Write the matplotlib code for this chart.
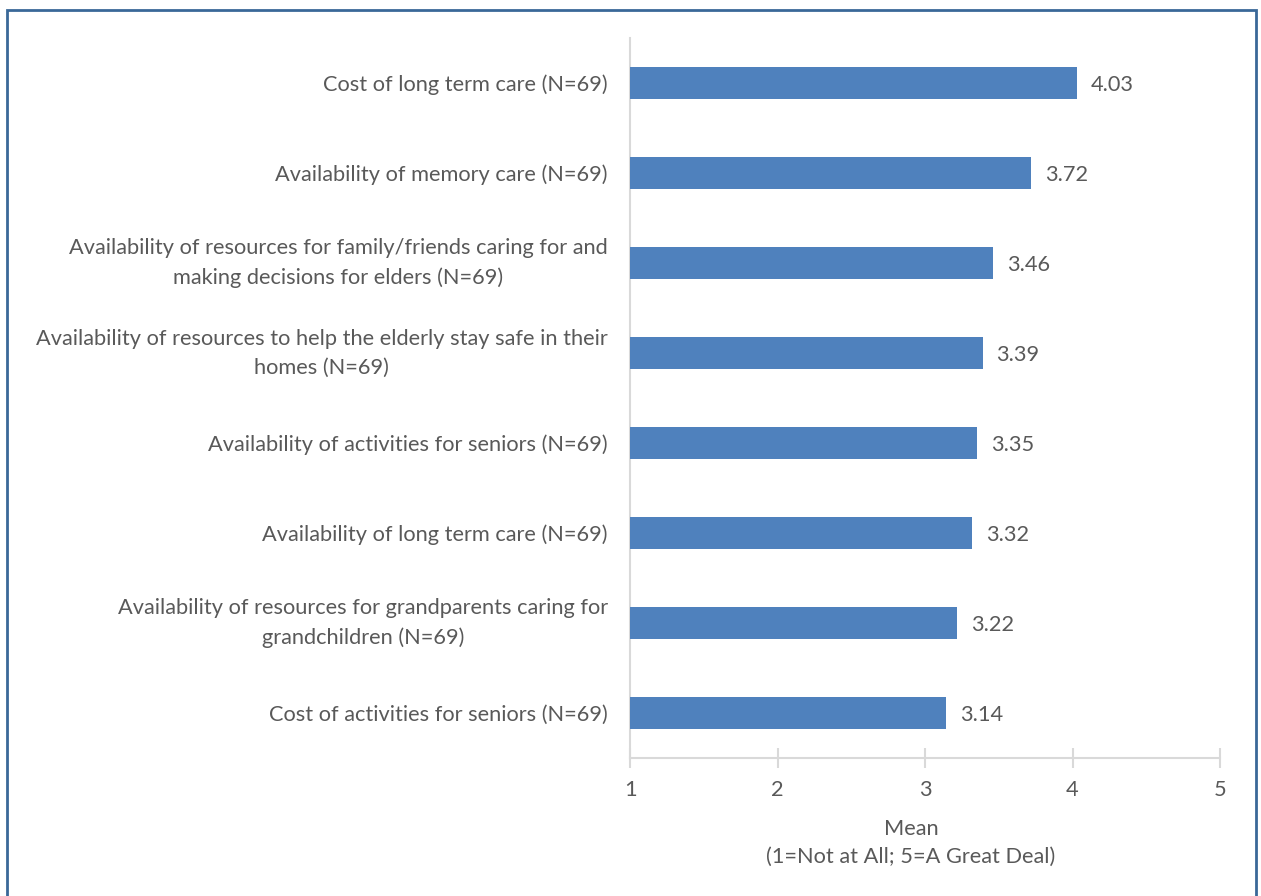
import matplotlib
matplotlib.use("Agg")
import matplotlib.pyplot as plt
from matplotlib.patches import Rectangle

categories = [
    "Cost of long term care (N=69)",
    "Availability of memory care (N=69)",
    "Availability of resources for family/friends caring for and\nmaking decisions for elders (N=69)",
    "Availability of resources to help the elderly stay safe in their\nhomes (N=69)",
    "Availability of activities for seniors (N=69)",
    "Availability of long term care (N=69)",
    "Availability of resources for grandparents caring for\ngrandchildren (N=69)",
    "Cost of activities for seniors (N=69)",
]
values = [4.03, 3.72, 3.46, 3.39, 3.35, 3.32, 3.22, 3.14]
xticks = [1, 2, 3, 4, 5]
xlabel = "Mean\n(1=Not at All; 5=A Great Deal)"

W, H = 1261, 896
DPI = 100
plt.rcParams['font.family'] = ['Lato', 'DejaVu Sans']
TEXT = "#595959"
BAR = "#4F81BD"
GRID = "#D9D9D9"
FS = 15.7

fig = plt.figure(figsize=(W / DPI, H / DPI), dpi=DPI)
# plot area in pixels: x 630..1220, y 38..758
ax = fig.add_axes([630 / W, 1 - 758 / H, (1220 - 630) / W, (758 - 38) / H])

n = len(categories)
ypos = list(range(n))
ax.barh(ypos, [v - 1 for v in values], left=1, height=0.355, color=BAR)
ax.set_xlim(1, 5)
ax.set_ylim(n - 0.5, -0.5)
ax.set_xticks(xticks)
ax.set_xticklabels([str(t) for t in xticks], fontsize=FS, color=TEXT)
ax.set_yticks(ypos)
ax.set_yticklabels(categories, fontsize=FS, color=TEXT)
for lab in ax.get_yticklabels():
    lab.set_horizontalalignment('right')
    lab.set_multialignment('center')
    lab.set_linespacing(1.55)
    if "\n" in lab.get_text():
        lab.set_verticalalignment('center')
ax.tick_params(axis='y', length=0, pad=16)
ax.tick_params(axis='x', direction='inout', length=14, width=1.5, color=GRID, pad=9)

for s in ['top', 'right']:
    ax.spines[s].set_visible(False)
for s in ['left', 'bottom']:
    ax.spines[s].set_color(GRID)
    ax.spines[s].set_linewidth(1.5)
ax.spines['left'].set_zorder(0)

for y, v in zip(ypos, values):
    ax.annotate(f"{v:.2f}", xy=(v, y), xytext=(14, 0), textcoords='offset pixels',
                va='center_baseline', ha='left', fontsize=FS, color=TEXT)

fig.text(911 / W, 1 - 843 / H, xlabel, ha='center', va='center', fontsize=FS,
         color=TEXT, linespacing=1.45)

fig.patches.append(Rectangle((7 / W, -0.05), (1256 - 7) / W, 1 - 10 / H + 0.05,
                             transform=fig.transFigure, fill=False,
                             edgecolor="#3A6898", linewidth=2))

fig.savefig("out.png", dpi=DPI)
